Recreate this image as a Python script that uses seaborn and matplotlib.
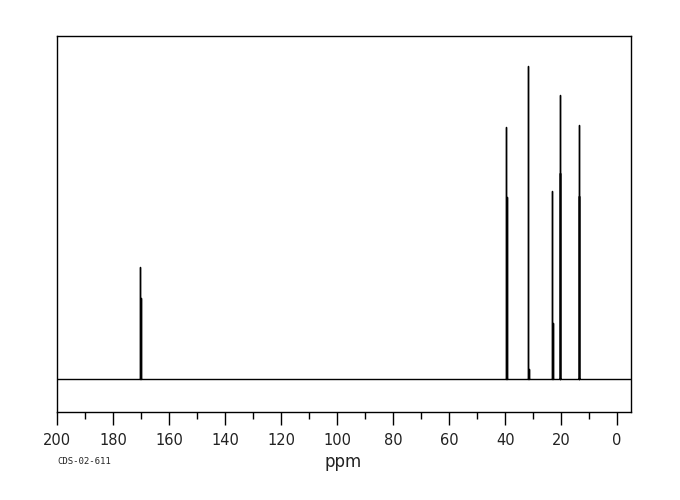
import matplotlib
matplotlib.use("Agg")
import matplotlib.pyplot as plt
import seaborn as sns
import pandas as pd
from matplotlib.ticker import MultipleLocator

# peak positions (ppm) and relative intensities
peak_ppm = [170.25, 170.15, 39.6, 39.45, 31.8, 31.65, 23.1, 22.95, 20.4, 20.25, 13.7, 13.55]
peak_height = [35.9, 26.0, 80.4, 58.0, 100.0, 3.0, 60.0, 18.0, 90.7, 65.7, 81.0, 58.3]

x_range = (200, -4.8)
major_ticks = [200, 180, 160, 140, 120, 100, 80, 60, 40, 20, 0]
tick_labels = ["200", "180", "160", "140", "120", "100", "80", "60", "40", "20", "0"]

# build a stick spectrum trace from the peak list
xs, ys = [x_range[0]], [0.0]
for p, h in sorted(zip(peak_ppm, peak_height), key=lambda t: -t[0]):
    xs += [p, p, p]
    ys += [0.0, h, 0.0]
xs.append(x_range[1])
ys.append(0.0)
spec = pd.DataFrame({"ppm": xs, "intensity": ys})

sns.set_style("white")
plt.rcParams["font.family"] = ["DejaVu Sans"]

fig = plt.figure(figsize=(6.8, 5.0), dpi=100)
ax = fig.add_axes([0.0838, 0.176, 0.8436, 0.752])

sns.lineplot(data=spec, x="ppm", y="intensity", sort=False, estimator=None,
             color="black", linewidth=1.0, ax=ax)

ax.set_xlim(*x_range)
ax.set_ylim(-10.6, 109.6)
ax.set_yticks([])
ax.set_xticks(major_ticks)
ax.set_xticklabels(tick_labels)
ax.xaxis.set_minor_locator(MultipleLocator(10))
ax.tick_params(axis="x", which="major", direction="out", length=9, width=1,
               labelsize=10.5, pad=6, bottom=True, color="black",
               labelcolor="#222222")
ax.tick_params(axis="x", which="minor", direction="out", length=5, width=1,
               bottom=True, color="black")
ax.set_xlabel("")
ax.set_ylabel("")
for s in ax.spines.values():
    s.set_color("black")
    s.set_linewidth(1.0)

fig.text(0.505, 0.076, "ppm", ha="center", va="center", fontsize=12,
         color="#222222")
fig.text(0.084, 0.076, "CDS-02-611", ha="left", va="center", fontsize=6.5,
         family="DejaVu Sans Mono")

fig.savefig("out.png", dpi=100)
